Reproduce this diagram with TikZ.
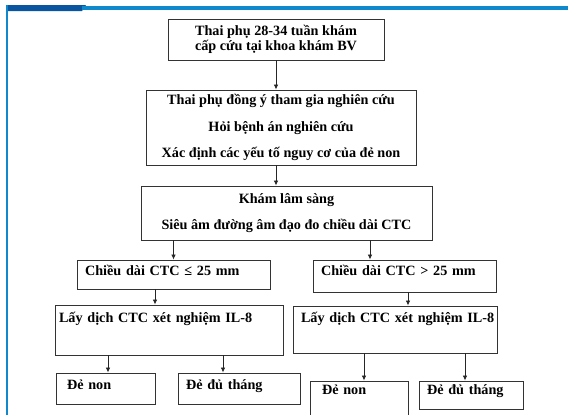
\documentclass[tikz,border=0pt]{standalone}
\usepackage{fontspec}
\setmainfont{Liberation Serif}
\usetikzlibrary{arrows.meta}
\definecolor{bandblue}{HTML}{0A55A0}
\definecolor{lineblue}{HTML}{1088CC}
\begin{document}
\begin{tikzpicture}[x=1pt,y=-1pt,
  every node/.style={font=\fontsize{14.2}{15}\selectfont\bfseries},
  box/.style={draw=black!80,line width=0.9pt,inner sep=0pt},
  lbox/.style={box,align=left,inner xsep=8pt},
  arr/.style={-{Latex[length=5pt,width=4.5pt]},line width=0.8pt,black!85}]
  \useasboundingbox (0,0) rectangle (568,415);
  % blue page frame
  \fill[bandblue] (6,5) -- (86,5) -- (82,11) -- (6,11) -- cycle;
  \fill[lineblue] (82,6) rectangle (568,10);
  \fill[lineblue] (6,5) rectangle (7.5,415);
  % main column
  \node[box,minimum width=216pt,minimum height=41pt,align=center] (top) at (276,39.5) {Thai phụ 28-34 tuần khám\\cấp cứu tại khoa khám BV};
  \node[box,minimum width=270pt,minimum height=75pt,align=center,font=\fontsize{14.2}{26.5}\selectfont\bfseries] (info) at (281,127.5) {Thai phụ đồng ý tham gia nghiên cứu\\Hỏi bệnh án nghiên cứu\\Xác định các yếu tố nguy cơ của đẻ non};
  \node[box,minimum width=291pt,minimum height=54pt,align=center,font=\fontsize{14.2}{26}\selectfont\bfseries] (exam) at (286.5,213) {Khám lâm sàng\\Siêu âm đường âm đạo đo chiều dài CTC};
  % two branches
  \node[lbox,text width=177pt,text height=15pt,text depth=14pt] (shortc) at (173.5,274.5) {Chiều dài CTC ≤ 25 mm};
  \node[lbox,text width=167pt,text height=15pt,text depth=17pt] (longc) at (404.5,276) {Chiều dài CTC > 25 mm};
  \node[lbox,inner xsep=4pt,text width=220pt,text height=17pt,text depth=33pt] (il8l) at (169,330) {Lấy dịch CTC xét nghiệm IL-8};
  \node[lbox,text width=188pt,text height=16pt,text depth=31pt] (il8r) at (395,329.5) {\mbox{Lấy dịch CTC xét nghiệm IL-8}};
  \node[lbox,inner xsep=11pt,text width=77pt,text height=16pt,text depth=15pt] (pl) at (105.5,388.5) {Đẻ non};
  \node[lbox,text width=106pt,text height=16pt,text depth=15pt] (fl) at (239,388.5) {Đẻ đủ tháng};
  \node[lbox,inner xsep=12pt,text width=74pt,text height=13pt,text depth=24pt] (pr) at (359,399.5) {Đẻ non};
  \node[lbox,text width=88pt,text height=13pt,text depth=15pt] (fr) at (471,395) {Đẻ đủ tháng};
  % connectors
  \draw[arr] (top) -- (top |- info.north);
  \draw[arr] (top |- info.south) -- (top |- exam.north);
  \draw[arr] (shortc |- exam.south) -- (shortc.north);
  \coordinate (rin) at ([xshift=-34.5pt]longc.north);
  \draw[arr] (rin |- exam.south) -- (rin);
  \coordinate (lout) at ([xshift=-18.5pt]shortc.south);
  \draw[arr] (lout) -- (lout |- il8l.north);
  \coordinate (rout) at ([xshift=3.5pt]longc.south);
  \draw[arr] (rout) -- (rout |- il8r.north);
  \coordinate (plin) at ([xshift=2.5pt]pl.north);
  \draw[arr] (plin |- il8l.south) -- (plin);
  \coordinate (flin) at ([xshift=-16pt]fl.north);
  \draw[arr] (flin |- il8l.south) -- (flin);
  \coordinate (prin) at ([xshift=5pt]pr.north);
  \draw[arr] (prin |- il8r.south) -- (prin);
  \coordinate (frin) at ([xshift=-6pt]fr.north);
  \draw[arr] (frin |- il8r.south) -- (frin);
\end{tikzpicture}
\end{document}
